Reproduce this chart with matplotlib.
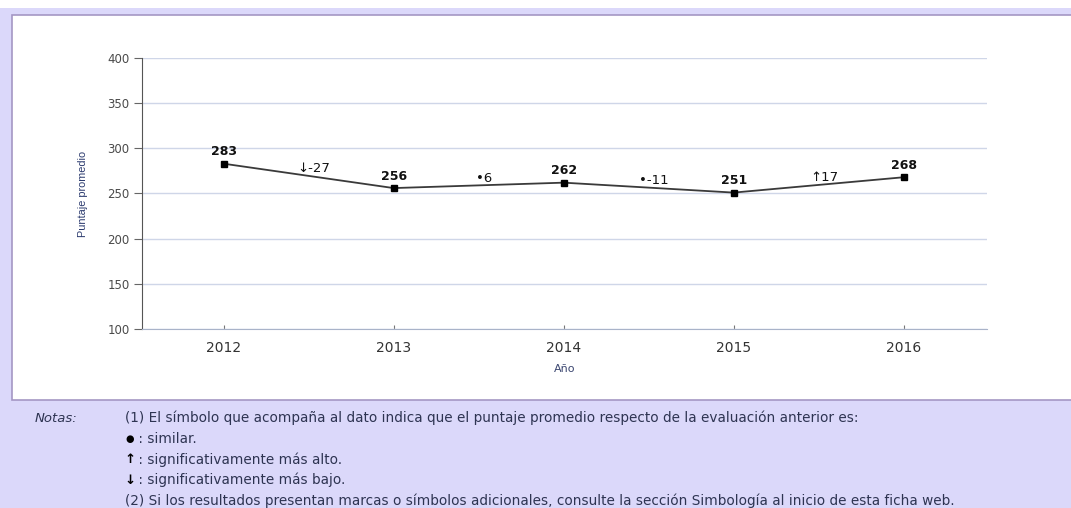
import matplotlib.pyplot as plt
from matplotlib.patches import Rectangle

# Puntaje promedio por año
years = [2012, 2013, 2014, 2015, 2016]
scores = [283, 256, 262, 251, 268]

# Variación respecto de la evaluación anterior y su símbolo
changes = [-27, 6, -11, 17]
change_marks = ['↓', '•', '•', '↑']

y_ticks = [100, 150, 200, 250, 300, 350, 400]

notes_title = 'Notas:'
notes_lines = [
    '(1) El símbolo que acompaña al dato indica que el puntaje promedio respecto de la evaluación anterior es:',
    ' : similar.',
    ' : significativamente más alto.',
    ' : significativamente más bajo.',
    '(2) Si los resultados presentan marcas o símbolos adicionales, consulte la sección Simbología al inicio de esta ficha web.',
]
notes_marks = ['', '●', '↑', '↓', '']

W, H = 1071, 508
LAVENDER = '#dbd8fa'
NAVY = '#2e3452'

fig = plt.figure(figsize=(W / 100, H / 100), dpi=100, facecolor=LAVENDER)


def fx(px):
    return px / W


def fy(py):
    return 1 - py / H


# franja superior blanca y panel del gráfico
fig.patches.append(Rectangle((0, fy(8)), 1, 8 / H, transform=fig.transFigure,
                             facecolor='white', edgecolor='none', zorder=-2))
fig.patches.append(Rectangle((fx(12), fy(400)), 1 - fx(12) + 0.01, (400 - 15) / H,
                             transform=fig.transFigure, facecolor='white',
                             edgecolor='#a497c4', lw=1.2, zorder=-1))

ax = fig.add_axes([fx(142), fy(329), fx(987) - fx(142), (329 - 58) / H])
ax.set_zorder(2)
ax.set_facecolor('none')

ax.plot(years, scores, color='#3a3a3a', lw=1.3, marker='s', markersize=4.5,
        markerfacecolor='black', markeredgecolor='black', zorder=3)

for x, v in zip(years, scores):
    ax.annotate(str(v), (x, v), xytext=(0, 4), textcoords='offset points',
                ha='center', va='bottom', fontsize=9, fontweight='bold',
                color='#111111', family='DejaVu Sans')

for i, (d, m) in enumerate(zip(changes, change_marks)):
    xm = (years[i] + years[i + 1]) / 2
    ym = (scores[i] + scores[i + 1]) / 2
    ax.annotate(f'{m}{d}', (xm, ym), xytext=(4, 5), textcoords='offset points',
                ha='center', va='center', fontsize=9.5, color='#111111',
                family='DejaVu Sans')

ax.set_xlim(2011.52, 2016.49)
ax.set_ylim(100, 400)
ax.set_xticks(years)
ax.set_yticks(y_ticks)
ax.grid(axis='y', color='#cfd6e8', lw=1)
ax.set_axisbelow(True)

for s in ['top', 'right']:
    ax.spines[s].set_visible(False)
ax.spines['left'].set_color('#555555')
ax.spines['bottom'].set_color('#a9b3c9')

ax.tick_params(axis='y', direction='out', length=6, color='#666666', pad=3,
               labelsize=8.5, labelcolor='#4a4a4a')
ax.tick_params(axis='x', direction='in', length=3, color='#777777', pad=9,
               labelsize=10, labelcolor='#333333')

ax.set_xlabel('Año', fontsize=8, color='#3b4670', labelpad=6)
ax.set_ylabel('Puntaje promedio', fontsize=7.8, color='#2b3a6e',
              family='Liberation Sans', labelpad=14)

# notas al pie
fs_notes = 9.8
fig.text(fx(35), fy(418), notes_title, fontsize=fs_notes - 0.3, style='italic',
         color=NAVY, va='center', family='DejaVu Sans')
for i, (line, mark) in enumerate(zip(notes_lines, notes_marks)):
    y = fy(418 + 20.7 * i)
    if mark:
        fig.text(fx(130), y, mark, fontsize=7 if mark == '●' else 9.5,
                 color='black', va='center', ha='center',
                 family='DejaVu Sans', fontweight='bold')
        fig.text(fx(134), y, line, fontsize=fs_notes, color=NAVY, va='center',
                 family='DejaVu Sans')
    else:
        fig.text(fx(125), y, line, fontsize=fs_notes, color=NAVY, va='center',
                 family='DejaVu Sans')

fig.savefig('out.png', dpi=100, facecolor=LAVENDER)
